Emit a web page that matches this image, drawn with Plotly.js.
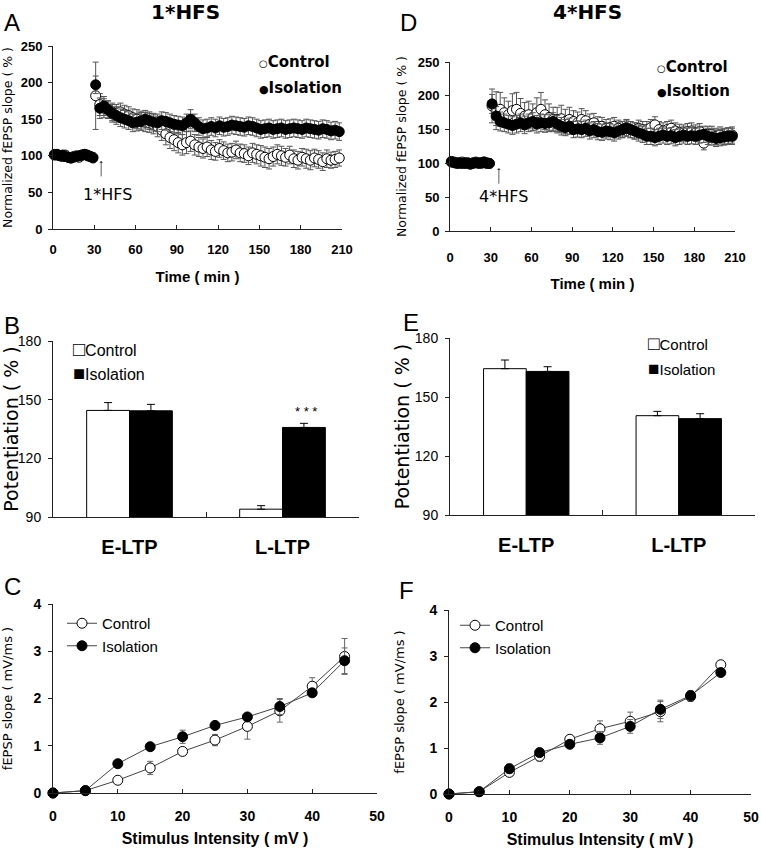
<!DOCTYPE html>
<html>
<head>
<meta charset="utf-8">
<script src="https://cdn.plot.ly/plotly-3.0.1.min.js"></script>
<style>
html,body{margin:0;padding:0;background:#fff;}
#chart{width:761px;height:857px;}
</style>
</head>
<body>
<div id="chart"></div>
<script>
// ---------- DATA ----------
// Panels A / D : time course (min)
const timeMin = [1,3,5,7,9,11,13,15,17,19,21,23,25,27,29,
  31,34,37,40,43,46,49,52,55,58,61,64,67,70,73,76,79,82,85,88,91,94,97,100,103,106,109,112,115,118,
  121,124,127,130,133,136,139,142,145,148,151,154,157,160,163,166,169,172,175,178,181,184,187,190,193,196,199,202,205,208];

const hfs1Control = [102,101,100,99,101,98,97,99,100,98,101,102,100,99,98,
  182,170,165,163,160,158,160,157,155,152,
  150,148,146,145,143,140,135,130,125,122,
  118,115,118,120,115,112,110,112,108,106,
  110,107,104,105,108,104,103,100,104,102,
  100,98,96,99,102,100,98,101,96,94,
  98,96,94,97,95,92,96,94,95,97];
const hfs1ControlErr = [3,3,3,3,3,3,3,3,3,3,3,3,3,3,3,
  46,15,13,12,12,12,12,12,12,12,
  13,13,13,13,13,14,14,15,15,15,
  14,14,15,14,14,13,13,13,13,12,
  12,12,12,12,12,12,12,12,13,13,
  14,14,14,13,13,13,12,12,12,12,
  12,13,13,12,12,12,12,11,11,11];
const hfs1Isolation = [101,102,100,101,99,98,97,98,99,100,101,102,101,99,97,
  197,165,168,163,158,155,152,150,148,145,
  146,147,150,148,146,145,148,147,145,143,
  142,141,145,150,145,140,137,138,140,138,
  141,139,140,142,141,140,139,141,140,138,
  136,137,138,136,137,138,136,137,138,137,
  136,138,137,136,135,137,136,134,135,133];
const hfs1IsolationErr = [2,2,2,2,2,2,2,2,2,2,2,2,2,2,2,
  12,14,13,12,12,12,12,12,12,12,
  12,12,12,12,12,12,12,12,12,12,
  12,12,12,13,12,12,12,12,12,12,
  12,12,12,12,12,12,12,12,12,12,
  12,12,12,12,12,12,12,12,12,12,
  12,12,12,12,12,12,12,12,12,12];

const hfs4Control = [103,102,101,100,102,101,100,99,101,102,101,100,102,101,100,
  185,178,180,175,172,178,180,174,170,172,
  168,175,180,172,168,165,165,166,162,165,
  162,160,165,163,158,160,155,155,152,153,
  155,152,150,153,150,148,152,150,150,153,
  157,150,148,150,152,148,146,145,147,148,
  145,147,130,143,143,140,142,140,141,142];
const hfs4ControlErr = [3,3,3,3,3,3,3,3,3,3,3,3,3,3,3,
  25,28,25,22,20,25,25,22,20,20,
  20,22,25,22,20,18,18,20,18,18,
  16,16,16,15,15,14,14,13,13,13,
  13,12,12,12,12,12,12,12,12,12,
  12,12,12,12,12,12,12,12,12,12,
  12,12,10,12,12,12,12,12,12,12];
const hfs4Isolation = [102,101,100,101,100,100,101,99,100,101,100,101,102,100,100,
  188,170,162,160,158,156,158,160,157,160,
  162,158,160,159,160,162,158,155,153,155,
  150,151,150,152,148,150,147,146,148,147,
  145,148,150,152,150,148,145,143,140,140,
  138,140,142,140,141,138,140,142,140,141,
  140,142,143,140,139,137,138,139,140,140];
const hfs4IsolationErr = [2,2,2,2,2,2,2,2,2,2,2,2,2,2,2,
  14,14,14,13,13,13,13,13,13,13,
  13,13,13,13,13,13,13,13,12,12,
  12,12,12,12,12,12,12,12,12,12,
  12,12,12,12,12,12,12,12,12,12,
  12,12,12,12,12,12,12,12,12,12,
  12,12,12,12,12,12,12,12,12,12];

// Panels B / E : potentiation (%)
const ltpCats = ['E-LTP','L-LTP'];
const b1Control = [144.5, 94.0];
const b1ControlErr = [4.0, 1.8];
const b1Isolation = [144.3, 135.8];
const b1IsolationErr = [3.3, 2.1];
const b4Control = [164.4, 140.5];
const b4ControlErr = [4.4, 2.2];
const b4Isolation = [163.0, 139.0];
const b4IsolationErr = [2.4, 2.5];

// Panels C / F : input-output (mV -> mV/ms)
const intensity = [0,5,10,15,20,25,30,35,40,45];
const io1Control = [0,0.05,0.27,0.53,0.88,1.12,1.41,1.74,2.26,2.89];
const io1ControlErr = [0,0.02,0.04,0.14,0.05,0.12,0.27,0.24,0.18,0.38];
const io1Isolation = [0,0.05,0.62,0.98,1.19,1.43,1.61,1.83,2.12,2.80];
const io1IsolationErr = [0,0.02,0.05,0.05,0.14,0.08,0.07,0.17,0.05,0.27];
const io4Control = [0,0.05,0.47,0.82,1.19,1.42,1.58,1.79,2.12,2.81];
const io4ControlErr = [0,0.02,0.06,0.10,0.05,0.17,0.20,0.22,0.10,0.08];
const io4Isolation = [0,0.05,0.55,0.90,1.08,1.22,1.47,1.84,2.14,2.64];
const io4IsolationErr = [0,0.02,0.10,0.05,0.06,0.14,0.15,0.20,0.10,0.05];

// ---------- LAYOUT HELPERS ----------
const W = 761, H = 857;
const fx = p => p / W;
const fy = p => 1 - p / H;
const FONT = 'Liberation Sans, Arial, sans-serif';
const WIDE = 'DejaVu Sans, Verdana, sans-serif';

function axis(extra) {
  return Object.assign({
    showline: true, linecolor: '#222', linewidth: 1, mirror: false,
    showgrid: false, zeroline: false, ticks: 'outside', ticklen: 4,
    tickcolor: '#222', tickwidth: 1, fixedrange: true
  }, extra);
}

const openMarker = {symbol: 'circle', size: 10, color: '#fff', line: {color: '#000', width: 1}};
const fillMarker = {symbol: 'circle', size: 10, color: '#000', line: {color: '#000', width: 1}};
function errs(arr, col) {
  return {type: 'data', array: arr, visible: true, color: col || '#555', thickness: 1, width: 3};
}

const traces = [
  // A
  {type: 'scatter', mode: 'markers', x: timeMin, y: hfs1Control, error_y: errs(hfs1ControlErr),
   marker: openMarker, xaxis: 'x', yaxis: 'y', showlegend: false, cliponaxis: false, name: 'Control'},
  {type: 'scatter', mode: 'markers', x: timeMin, y: hfs1Isolation, error_y: errs(hfs1IsolationErr),
   marker: fillMarker, xaxis: 'x', yaxis: 'y', showlegend: false, cliponaxis: false, name: 'Isolation'},
  // D
  {type: 'scatter', mode: 'markers', x: timeMin, y: hfs4Control, error_y: errs(hfs4ControlErr),
   marker: openMarker, xaxis: 'x2', yaxis: 'y2', showlegend: false, cliponaxis: false, name: 'Control'},
  {type: 'scatter', mode: 'markers', x: timeMin, y: hfs4Isolation, error_y: errs(hfs4IsolationErr),
   marker: fillMarker, xaxis: 'x2', yaxis: 'y2', showlegend: false, cliponaxis: false, name: 'Isoltion'},
  // B
  {type: 'bar', x: ltpCats, y: b1Control, xaxis: 'x3', yaxis: 'y3', showlegend: false, name: 'Control',
   marker: {color: '#fff', line: {color: '#000', width: 1}},
   error_y: {type: 'data', array: b1ControlErr, arrayminus: [0,0], symmetric: false, color: '#000', thickness: 1, width: 4}},
  {type: 'bar', x: ltpCats, y: b1Isolation, xaxis: 'x3', yaxis: 'y3', showlegend: false, name: 'Isolation',
   marker: {color: '#000', line: {color: '#000', width: 1}},
   error_y: {type: 'data', array: b1IsolationErr, arrayminus: [0,0], symmetric: false, color: '#000', thickness: 1, width: 4}},
  // E
  {type: 'bar', x: ltpCats, y: b4Control, xaxis: 'x4', yaxis: 'y4', showlegend: false, name: 'Control',
   marker: {color: '#fff', line: {color: '#000', width: 1}},
   error_y: {type: 'data', array: b4ControlErr, arrayminus: [0,0], symmetric: false, color: '#000', thickness: 1, width: 4}},
  {type: 'bar', x: ltpCats, y: b4Isolation, xaxis: 'x4', yaxis: 'y4', showlegend: false, name: 'Isolation',
   marker: {color: '#000', line: {color: '#000', width: 1}},
   error_y: {type: 'data', array: b4IsolationErr, arrayminus: [0,0], symmetric: false, color: '#000', thickness: 1, width: 4}},
  // C
  {type: 'scatter', mode: 'lines+markers', x: intensity, y: io1Control, error_y: errs(io1ControlErr, '#666'),
   line: {color: '#444', width: 1}, marker: openMarker, xaxis: 'x5', yaxis: 'y5', cliponaxis: false,
   name: 'Control', legend: 'legend'},
  {type: 'scatter', mode: 'lines+markers', x: intensity, y: io1Isolation, error_y: errs(io1IsolationErr, '#666'),
   line: {color: '#444', width: 1}, marker: fillMarker, xaxis: 'x5', yaxis: 'y5', cliponaxis: false,
   name: 'Isolation', legend: 'legend'},
  // F
  {type: 'scatter', mode: 'lines+markers', x: intensity, y: io4Control, error_y: errs(io4ControlErr, '#666'),
   line: {color: '#444', width: 1}, marker: openMarker, xaxis: 'x6', yaxis: 'y6', cliponaxis: false,
   name: 'Control', legend: 'legend2'},
  {type: 'scatter', mode: 'lines+markers', x: intensity, y: io4Isolation, error_y: errs(io4IsolationErr, '#666'),
   line: {color: '#444', width: 1}, marker: fillMarker, xaxis: 'x6', yaxis: 'y6', cliponaxis: false,
   name: 'Isolation', legend: 'legend2'}
];

const tickBold13 = {family: FONT, size: 13, weight: 'bold', color: '#000'};
const tickBold14 = {family: FONT, size: 14, weight: 'bold', color: '#000'};

const timeX = (dom, lblOff, ttlOff) => axis({domain: dom, range: [0,210], tick0: 0, dtick: 30, ticks: 'inside', ticklen: 4,
  tickfont: tickBold13, ticklabelstandoff: lblOff,
  title: {text: 'Time ( min )', font: {family: FONT, size: 15, weight: 'bold', color: '#000'}, standoff: ttlOff}});
const slopeY = (dom) => axis({domain: dom, range: [0,250], tick0: 0, dtick: 50,
  tickfont: tickBold13, ticklabelstandoff: 3,
  title: {text: 'Normalized fEPSP slope ( % )', font: {family: WIDE, size: 12.5, color: '#000'}, standoff: 8}});
const catX = (dom) => axis({domain: dom, type: 'category', tickson: 'boundaries', ticks: 'inside', ticklen: 5,
  tickfont: {family: FONT, size: 20, weight: 'bold', color: '#000'}, ticklabelstandoff: 12});
const potY = (dom) => axis({domain: dom, range: [90,180], tickvals: [90,120,150,180],
  tickfont: {family: FONT, size: 14, color: '#000'}, ticklabelstandoff: 4,
  title: {text: 'Potentiation ( % )', font: {family: WIDE, size: 19, color: '#000'}, standoff: 0}});
const intX = (dom) => axis({domain: dom, range: [0,50], tick0: 0, dtick: 10, ticks: 'inside', ticklen: 4,
  tickfont: tickBold14, ticklabelstandoff: 10,
  title: {text: 'Stimulus Intensity ( mV )', font: {family: FONT, size: 16, weight: 'bold', color: '#000'}, standoff: 10}});
const ioY = (dom) => axis({domain: dom, range: [0,4], tick0: 0, dtick: 1,
  tickfont: tickBold14, ticklabelstandoff: 4,
  title: {text: 'fEPSP slope ( mV/ms )', font: {family: WIDE, size: 13, color: '#000'}, standoff: 21}});

function note(x, y, text, font, extra) {
  return Object.assign({xref: 'paper', yref: 'paper', x: fx(x), y: fy(y), text: text, showarrow: false,
    xanchor: 'center', yanchor: 'middle', font: font}, extra || {});
}
const letterFont = {family: FONT, size: 24, color: '#000'};
const titleFont = {family: WIDE, size: 20, weight: 'bold', color: '#000'};
const legWide = {family: WIDE, size: 15, weight: 'bold', color: '#000'};
const legBar = {family: FONT, size: 16, color: '#000'};

const annotations = [
  note(185, 12, '1*HFS', titleFont),
  note(587, 12, '4*HFS', titleFont),
  note(2, 23, 'A', letterFont, {xanchor: 'left'}),
  note(398, 23, 'D', letterFont, {xanchor: 'left'}),
  note(2, 325, 'B', letterFont, {xanchor: 'left'}),
  note(401, 322, 'E', letterFont, {xanchor: 'left'}),
  note(2, 586, 'C', letterFont, {xanchor: 'left'}),
  note(397, 590, 'F', letterFont, {xanchor: 'left'}),
  // HFS arrows and labels
  {xref: 'x', yref: 'y', x: 35, y: 93, ax: 0, ay: 17, text: '', showarrow: true, arrowhead: 1,
   arrowsize: 0.8, arrowwidth: 0.8, arrowcolor: '#333'},
  note(107, 194, '1*HFS', {family: WIDE, size: 16, color: '#000'}),
  {xref: 'x2', yref: 'y2', x: 36, y: 93, ax: 0, ay: 17, text: '', showarrow: true, arrowhead: 1,
   arrowsize: 0.8, arrowwidth: 0.8, arrowcolor: '#333'},
  note(503, 197, '4*HFS', {family: WIDE, size: 16, color: '#000'}),
  // A / D legends
  note(257, 62, '<span style="font-size:10px">○</span>Control', legWide, {xanchor: 'left'}),
  note(257, 88, '<span style="font-size:11px">●</span>Isolation', legWide, {xanchor: 'left'}),
  note(655, 67, '<span style="font-size:10px">○</span>Control', legWide, {xanchor: 'left'}),
  note(655, 91, '<span style="font-size:11px">●</span>Isoltion', legWide, {xanchor: 'left'}),
  // B / E legends
  note(71, 349, '<span style="font-size:20px">□</span>Control', legBar, {xanchor: 'left'}),
  note(71, 373, '<span style="font-size:20px">■</span>Isolation', legBar, {xanchor: 'left'}),
  note(646, 344, '<span style="font-size:19px">□</span>Control', Object.assign({}, legBar, {size: 15}), {xanchor: 'left'}),
  note(646, 368, '<span style="font-size:19px">■</span>Isolation', Object.assign({}, legBar, {size: 15}), {xanchor: 'left'}),
  // significance
  note(306, 411, '* * *', {family: FONT, size: 13, color: '#000'})
];

const layout = {
  width: W, height: H,
  margin: {l: 0, r: 0, t: 0, b: 0},
  paper_bgcolor: '#fff', plot_bgcolor: 'rgba(0,0,0,0)',
  font: {family: FONT, color: '#000'},
  barmode: 'group', bargap: 0.44, bargroupgap: 0,
  xaxis: Object.assign(timeX([fx(53), fx(342)], 8, 15), {anchor: 'y'}),
  yaxis: Object.assign(slopeY([fy(229), fy(46)]), {anchor: 'x'}),
  xaxis2: Object.assign(timeX([fx(450), fx(735)], 14, 14), {anchor: 'y2'}),
  yaxis2: Object.assign(slopeY([fy(231), fy(62)]), {anchor: 'x2'}),
  xaxis3: Object.assign(catX([fx(53), fx(359)]), {anchor: 'y3'}),
  yaxis3: Object.assign(potY([fy(517), fy(341)]), {anchor: 'x3'}),
  xaxis4: Object.assign(catX([fx(450), fx(755)]), {anchor: 'y4'}),
  yaxis4: Object.assign(potY([fy(515), fy(338)]), {anchor: 'x4'}),
  xaxis5: Object.assign(intX([fx(53), fx(377)]), {anchor: 'y5'}),
  yaxis5: Object.assign(ioY([fy(793), fy(604)]), {anchor: 'x5'}),
  xaxis6: Object.assign(intX([fx(449), fx(751)]), {anchor: 'y6'}),
  yaxis6: Object.assign(ioY([fy(794), fy(610)]), {anchor: 'x6'}),
  legend: {x: fx(62), y: fy(607), xanchor: 'left', yanchor: 'top', bgcolor: 'rgba(0,0,0,0)',
    font: {family: FONT, size: 15, color: '#000'}, tracegroupgap: 0, borderwidth: 0},
  legend2: {x: fx(455), y: fy(609), xanchor: 'left', yanchor: 'top', bgcolor: 'rgba(0,0,0,0)',
    font: {family: FONT, size: 15, color: '#000'}, tracegroupgap: 0, borderwidth: 0},
  annotations: annotations,
  showlegend: true
};

Plotly.newPlot('chart', traces, layout, {displayModeBar: false, staticPlot: true});
</script>
</body>
</html>
